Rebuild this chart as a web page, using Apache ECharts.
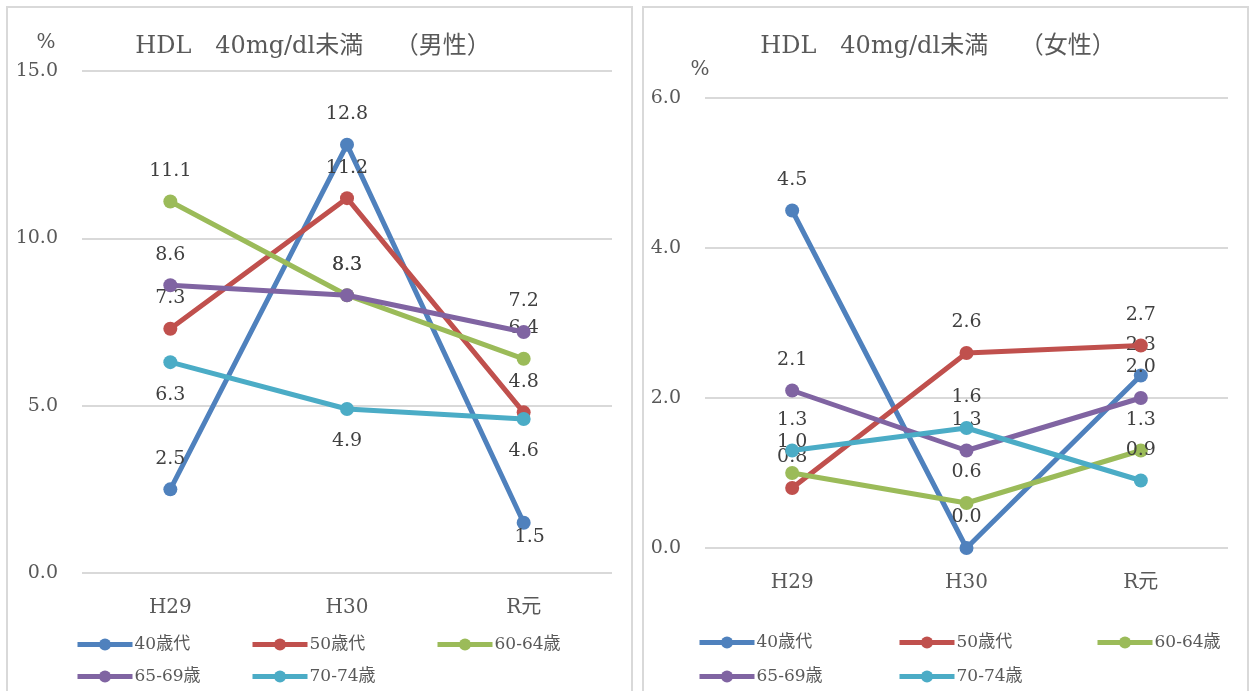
<!DOCTYPE html>
<html>
<head>
<meta charset="utf-8">
<script src="https://cdn.jsdelivr.net/npm/echarts@6/dist/echarts.min.js"></script>
<style>
  html, body { margin: 0; padding: 0; background: #ffffff; }
  #chart { width: 1250px; height: 691px; }
</style>
</head>
<body>
<div id="chart"></div>
<script>
// Fiscal years on the category axis
const categories = ['H29', 'H30', 'R元'];
const groupNames = ['40歳代', '50歳代', '60-64歳', '65-69歳', '70-74歳'];

// Share (%) with HDL below 40 mg/dl — men
const male40s   = [2.5, 12.8, 1.5];
const male50s   = [7.3, 11.2, 4.8];
const male6064  = [11.1, 8.3, 6.4];
const male6569  = [8.6, 8.3, 7.2];
const male7074  = [6.3, 4.9, 4.6];

// Share (%) with HDL below 40 mg/dl — women
const female40s  = [4.5, 0.0, 2.3];
const female50s  = [0.8, 2.6, 2.7];
const female6064 = [1.0, 0.6, 1.3];
const female6569 = [2.1, 1.3, 2.0];
const female7074 = [1.3, 1.6, 0.9];

// Value axis ranges
const maleAxis   = { min: 0, max: 15, interval: 5 };
const femaleAxis = { min: 0, max: 6, interval: 2 };

const maleTitle   = 'HDL　40mg/dl未満　 （男性）';
const femaleTitle = 'HDL　40mg/dl未満　 （女性）';
const unitLabel = '%';

const colors = ['#4F81BD', '#C0504D', '#9BBB59', '#8064A2', '#4BACC6'];
const latin = '"DejaVu Serif", "Noto Sans CJK JP", serif';
const textGray = '#595959';
const labelGray = '#404040';

const maleSets = [male40s, male50s, male6064, male6569, male7074];
const femaleSets = [female40s, female50s, female6064, female6569, female7074];

// label placement: which points carry their value underneath
function labelPlacement(panel, s, i) {
  if (panel === 0 && s === 4) return { position: 'bottom', distance: 16 };
  if (panel === 0 && s === 0 && i === 2) return { position: 'bottom', distance: -2, offset: [6, 0] };
  return { position: 'top', distance: 14 };
}

function buildSeries(sets, panel) {
  return sets.map((vals, s) => ({
    name: groupNames[s],
    type: 'line',
    xAxisIndex: panel,
    yAxisIndex: panel,
    data: vals.map((v, i) => ({ value: v, label: labelPlacement(panel, s, i) })),
    symbol: 'circle',
    symbolSize: 14,
    lineStyle: { width: 5, color: colors[s] },
    itemStyle: { color: colors[s] },
    label: {
      show: true,
      color: labelGray,
      fontFamily: latin,
      fontSize: 19,
      formatter: p => Number(p.value).toFixed(1)
    },
    emphasis: { disabled: true },
    animation: false,
    z: 2 + s
  }));
}

function legendItems(xs, ys) {
  return groupNames.map((n, k) => ({
    data: [n],
    left: xs[k],
    top: ys[k],
    padding: 0,
    itemWidth: 55,
    itemHeight: 15,
    itemGap: 0,
    selectedMode: false,
    lineStyle: { width: 5 },
    textStyle: { color: textGray, fontFamily: latin, fontSize: 17, padding: [0, 0, 0, -3] }
  }));
}

const valueAxis = (cfg, panel) => ({
  type: 'value',
  gridIndex: panel,
  min: cfg.min,
  max: cfg.max,
  interval: cfg.interval,
  axisLine: { show: false },
  axisTick: { show: false },
  axisLabel: {
    color: textGray, fontFamily: latin, fontSize: 19, margin: 24,
    formatter: v => v.toFixed(1)
  },
  splitLine: { lineStyle: { color: '#d9d9d9', width: 2 } }
});

const catAxis = panel => ({
  type: 'category',
  gridIndex: panel,
  data: categories,
  axisLine: { show: false },
  axisTick: { show: false },
  axisLabel: { color: textGray, fontFamily: latin, fontSize: 20, margin: 25 }
});

const chart = echarts.init(document.getElementById('chart'), null, { renderer: 'canvas' });

chart.setOption({
  backgroundColor: '#ffffff',
  animation: false,
  color: colors,
  grid: [
    { left: 82, top: 71, width: 530, height: 502 },
    { left: 705, top: 98, width: 523, height: 450 }
  ],
  xAxis: [catAxis(0), catAxis(1)],
  yAxis: [valueAxis(maleAxis, 0), valueAxis(femaleAxis, 1)],
  legend: [
    ...legendItems([75, 250, 435, 75, 250], [636, 636, 636, 668, 668]),
    ...legendItems([697, 897, 1095, 697, 897], [634, 634, 634, 668, 668])
  ],
  graphic: [
    { type: 'rect', shape: { x: 7, y: 7, width: 625, height: 700 },
      style: { fill: 'none', stroke: '#d9d9d9', lineWidth: 2 }, silent: true, z: 0 },
    { type: 'rect', shape: { x: 643, y: 7, width: 605, height: 700 },
      style: { fill: 'none', stroke: '#d9d9d9', lineWidth: 2 }, silent: true, z: 0 },
    { type: 'text', x: 313, y: 47, style: { text: maleTitle, fill: textGray, font: '24px ' + latin,
      textAlign: 'center', textVerticalAlign: 'middle' }, silent: true },
    { type: 'text', x: 938, y: 47, style: { text: femaleTitle, fill: textGray, font: '24px ' + latin,
      textAlign: 'center', textVerticalAlign: 'middle' }, silent: true },
    { type: 'text', x: 46, y: 43, style: { text: unitLabel, fill: textGray, font: '20px ' + latin,
      textAlign: 'center', textVerticalAlign: 'middle' }, silent: true },
    { type: 'text', x: 700, y: 70, style: { text: unitLabel, fill: textGray, font: '20px ' + latin,
      textAlign: 'center', textVerticalAlign: 'middle' }, silent: true }
  ],
  series: [...buildSeries(maleSets, 0), ...buildSeries(femaleSets, 1)]
});
</script>
</body>
</html>
